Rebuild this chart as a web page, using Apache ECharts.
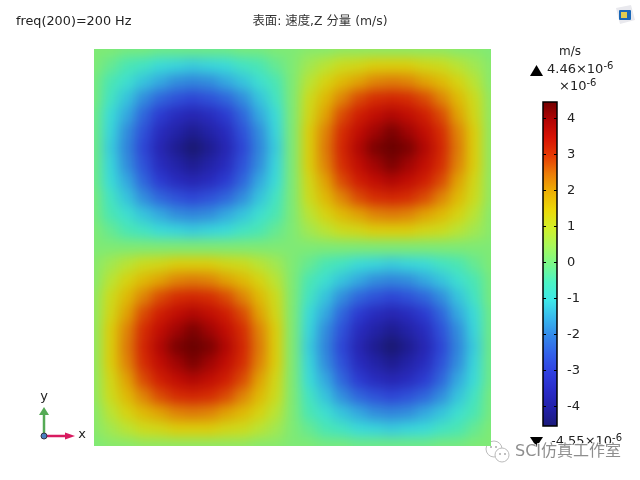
<!DOCTYPE html>
<html lang="zh">
<head>
	<meta charset="UTF-8">
	<title>速度 Z 分量</title>
	<style type="text/css">
	html, body { margin: 0; padding: 0; background: #fff; }
	#main { position: absolute; left: 0; top: 0; width: 640px; height: 480px; }
	/* 云图单独一层：模糊后由外层裁剪到绘图区 */
	#clip { position: absolute; left: 94px; top: 49px; width: 397px; height: 397px; overflow: hidden; }
	#heat { position: absolute; left: -30px; top: -30px; width: 457px; height: 457px; filter: blur(6px) brightness(0.94); }
</style>
</head>
<body>
	<div id="main"></div>
	<div id="clip"><div id="heat"></div></div>

	<script type="text/javascript" src="https://cdn.jsdelivr.net/npm/echarts@6/dist/echarts.min.js"></script>
	<script type="text/javascript">

		// 速度 Z 分量读数 (×10^-6 m/s)，从上到下、从左到右，采样点落在绘图区边缘
		var heatRows = [
			[.1,.1,0,0,-.1,-.1,-.1,-.1,-.1,0,0,.1,.1,.2,.2,.3,.3,.3,.3,.3,.3,.3,.2,.2,.1],
			[.1,-.2,-.5,-.7,-1,-1.1,-1.2,-1.1,-1,-.7,-.5,-.2,.1,.5,.8,1.1,1.2,1.4,1.4,1.4,1.2,1.1,.8,.5,.2],
			[0,-.5,-.9,-1.3,-1.6,-1.9,-2,-1.9,-1.6,-1.3,-.9,-.5,.1,.8,1.3,1.7,2,2.3,2.4,2.3,2,1.7,1.3,.8,.2],
			[0,-.7,-1.3,-1.9,-2.4,-2.7,-2.9,-2.7,-2.4,-1.9,-1.3,-.7,.1,1.1,1.7,2.3,2.8,3.1,3.2,3.1,2.8,2.3,1.7,1.1,.3],
			[-.1,-1,-1.6,-2.4,-3.1,-3.5,-3.7,-3.5,-3.1,-2.4,-1.6,-1,.1,1.2,2,2.8,3.3,3.6,3.8,3.6,3.3,2.8,2,1.2,.3],
			[-.1,-1.1,-1.9,-2.7,-3.5,-3.9,-4.2,-3.9,-3.5,-2.7,-1.9,-1.1,.1,1.4,2.3,3.1,3.6,4,4.3,4,3.6,3.1,2.3,1.4,.3],
			[-.1,-1.2,-2,-2.9,-3.7,-4.2,-4.55,-4.2,-3.7,-2.9,-2,-1.2,.1,1.4,2.4,3.2,3.8,4.3,4.46,4.3,3.8,3.2,2.4,1.4,.3],
			[-.1,-1.1,-1.9,-2.7,-3.5,-3.9,-4.2,-3.9,-3.5,-2.7,-1.9,-1.1,.1,1.4,2.3,3.1,3.6,4,4.3,4,3.6,3.1,2.3,1.4,.3],
			[-.1,-1,-1.6,-2.4,-3.1,-3.5,-3.7,-3.5,-3.1,-2.4,-1.6,-1,.1,1.2,2,2.8,3.3,3.6,3.8,3.6,3.3,2.8,2,1.2,.3],
			[0,-.7,-1.3,-1.9,-2.4,-2.7,-2.9,-2.7,-2.4,-1.9,-1.3,-.7,.1,1.1,1.7,2.3,2.8,3.1,3.2,3.1,2.8,2.3,1.7,1.1,.3],
			[0,-.5,-.9,-1.3,-1.6,-1.9,-2,-1.9,-1.6,-1.3,-.9,-.5,.1,.8,1.3,1.7,2,2.3,2.4,2.3,2,1.7,1.3,.8,.2],
			[.1,-.2,-.5,-.7,-1,-1.1,-1.2,-1.1,-1,-.7,-.5,-.2,.1,.5,.8,1.1,1.2,1.4,1.4,1.4,1.2,1.1,.8,.5,.2],
			[.1,.1,.1,.1,.1,.1,.1,.1,.1,.1,.1,.1,.1,.1,.1,.1,.1,.1,.1,.1,.1,.1,.1,.1,.1],
			[.2,.5,.8,1.1,1.2,1.4,1.4,1.4,1.2,1.1,.8,.5,.1,-.2,-.5,-.7,-1,-1.1,-1.2,-1.1,-1,-.7,-.5,-.2,.1],
			[.2,.8,1.3,1.7,2,2.3,2.4,2.3,2,1.7,1.3,.8,.1,-.5,-.9,-1.3,-1.6,-1.9,-2,-1.9,-1.6,-1.3,-.9,-.5,0],
			[.3,1.1,1.7,2.3,2.8,3.1,3.2,3.1,2.8,2.3,1.7,1.1,.1,-.7,-1.3,-1.9,-2.4,-2.7,-2.9,-2.7,-2.4,-1.9,-1.3,-.7,0],
			[.3,1.2,2,2.8,3.3,3.6,3.8,3.6,3.3,2.8,2,1.2,.1,-1,-1.6,-2.4,-3.1,-3.5,-3.7,-3.5,-3.1,-2.4,-1.6,-1,-.1],
			[.3,1.4,2.3,3.1,3.6,4,4.3,4,3.6,3.1,2.3,1.4,.1,-1.1,-1.9,-2.7,-3.5,-3.9,-4.2,-3.9,-3.5,-2.7,-1.9,-1.1,-.1],
			[.3,1.4,2.4,3.2,3.8,4.3,4.46,4.3,3.8,3.2,2.4,1.4,.1,-1.2,-2,-2.9,-3.7,-4.2,-4.55,-4.2,-3.7,-2.9,-2,-1.2,-.1],
			[.3,1.4,2.3,3.1,3.6,4,4.3,4,3.6,3.1,2.3,1.4,.1,-1.1,-1.9,-2.7,-3.5,-3.9,-4.2,-3.9,-3.5,-2.7,-1.9,-1.1,-.1],
			[.3,1.2,2,2.8,3.3,3.6,3.8,3.6,3.3,2.8,2,1.2,.1,-1,-1.6,-2.4,-3.1,-3.5,-3.7,-3.5,-3.1,-2.4,-1.6,-1,-.1],
			[.3,1.1,1.7,2.3,2.8,3.1,3.2,3.1,2.8,2.3,1.7,1.1,.1,-.7,-1.3,-1.9,-2.4,-2.7,-2.9,-2.7,-2.4,-1.9,-1.3,-.7,0],
			[.2,.8,1.3,1.7,2,2.3,2.4,2.3,2,1.7,1.3,.8,.1,-.5,-.9,-1.3,-1.6,-1.9,-2,-1.9,-1.6,-1.3,-.9,-.5,0],
			[.2,.5,.8,1.1,1.2,1.4,1.4,1.4,1.2,1.1,.8,.5,.1,-.2,-.5,-.7,-1,-1.1,-1.2,-1.1,-1,-.7,-.5,-.2,.1],
			[.1,.2,.2,.3,.3,.3,.3,.3,.3,.3,.2,.2,.1,.1,0,0,-.1,-.1,-.1,-.1,-.1,0,0,.1,.1]
		];
		var barRange = [-4.55, 4.46];
		var barTicks = [-4, -3, -2, -1, 0, 1, 2, 3, 4];
		// 从 -4.55 到 4.46 均匀取色
		var heatColors = [
			'#1b1a78', '#2220a8', '#2a2cc8', '#3040e0', '#3360ea', '#3488ea', '#37b8ee', '#3ee8e8', '#4cf5c4', '#7af98a',
			'#a8f85a', '#d2f028', '#ecd808', '#eeb004', '#ec7c08', '#e63a04', '#d81204', '#b00404', '#700000'
		];

		var fontName = '"DejaVu Sans", "Noto Sans CJK SC", sans-serif';
		var textColor = '#222';

		// 转成热力图需要的 [x, y, value]
		function heatData () {
			var arr = [];
			heatRows.forEach(function (row, y) {
				row.forEach(function (v, x) {
					arr.push([x, y, v]);
				});
			});
			return arr;
		}

		function indexList (n) {
			var arr = [];
			for (var i = 0; i < n; i++) arr.push(i);
			return arr;
		}

		// 云图
		var heat = echarts.init(document.getElementById('heat'));
		heat.setOption({
			animation: false,
			backgroundColor: '#8cf090',
			grid: { left: 21.73, right: 21.73, top: 21.73, bottom: 21.73 },
			xAxis: { type: 'category', show: false, data: indexList(heatRows[0].length) },
			yAxis: { type: 'category', show: false, inverse: true, data: indexList(heatRows.length) },
			visualMap: { show: false, min: barRange[0], max: barRange[1], calculable: false, inRange: { color: heatColors } },
			series: [{ type: 'heatmap', data: heatData(), progressive: 0 }]
		});

		function text (x, y, str, size, align, color) {
			return {
				type: 'text', x: x, y: y, silent: true,
				style: { text: str, fill: color || textColor, font: size + 'px ' + fontName, align: align || 'left', verticalAlign: 'middle' }
			};
		}

		// 带上标的 ×10^-6
		function powerText (x, y, str, align) {
			return {
				type: 'text', x: x, y: y, silent: true,
				style: {
					text: '{n|' + str + '×10}{s|-6}', align: align || 'left', verticalAlign: 'middle',
					rich: {
						n: { fontFamily: fontName, fontSize: 13, fill: textColor, color: textColor },
						s: { fontFamily: fontName, fontSize: 10, fill: textColor, color: textColor, padding: [0, 0, 7, 0] }
					}
				}
			};
		}

		function tri (points, fill) {
			return { type: 'polygon', silent: true, shape: { points: points }, style: { fill: fill } };
		}

		function seg (x1, y1, x2, y2, color, w) {
			return { type: 'line', silent: true, shape: { x1: x1, y1: y1, x2: x2, y2: y2 }, style: { stroke: color, lineWidth: w } };
		}

		function dot (x, y, r, fill, stroke) {
			return { type: 'circle', silent: true, shape: { cx: x, cy: y, r: r }, style: { fill: fill, stroke: stroke || null, lineWidth: 1 } };
		}

		var decor = [
			text(16, 22, 'freq(200)=200 Hz', 12.8),
			text(320, 22, '表面: 速度,Z 分量 (m/s)', 12.4, 'center', '#333'),
			text(570, 52, 'm/s', 12, 'center'),
			tri([[530, 76], [543, 76], [536.5, 65]], '#000'),
			powerText(547, 70, '4.46'),
			powerText(559, 87, ''),
			tri([[530, 437], [543, 437], [536.5, 447]], '#000'),
			powerText(551, 442, '-4.55'),

			// 坐标三轴
			seg(44, 436, 44, 414, '#55aa55', 2.5),
			tri([[39, 415], [49, 415], [44, 407]], '#55aa55'),
			seg(44, 436, 66, 436, '#d81b60', 2.5),
			tri([[65, 432.5], [65, 439.5], [75, 436]], '#d81b60'),
			dot(44, 436, 3, '#4a80c0', '#334'),
			text(44, 397, 'y', 13, 'center'),
			text(82, 435, 'x', 13, 'center'),

			// 右上角小图标
			tri([[616, 8], [631, 5], [635, 20], [620, 24]], '#e9e9ee'),
			{ type: 'rect', silent: true, shape: { x: 619, y: 10, width: 12, height: 10, r: 1 }, style: { fill: '#1a68b8' } },
			{ type: 'rect', silent: true, shape: { x: 621, y: 12, width: 6, height: 6 }, style: { fill: '#e0cc50' } },

			// 水印
			dot(494, 449, 8, '#fff', '#bbb'),
			dot(502, 455, 7, '#fff', '#bbb'),
			dot(491, 447, 1, '#aaa'),
			dot(496, 447, 1, '#aaa'),
			dot(500, 454, 1, '#aaa'),
			dot(505, 454, 1, '#aaa'),
			{
				type: 'text', x: 515, y: 452, silent: true,
				style: { text: 'SCI仿真工作室', fill: '#8e8e8e', stroke: '#fff', lineWidth: 1.5, font: '16px ' + fontName, align: 'left', verticalAlign: 'middle' }
			}
		];

		// 色标、刻度和文字
		var main = echarts.init(document.getElementById('main'));
		main.setOption({
			animation: false,
			grid: { left: 543, top: 102, width: 14, height: 324 },
			xAxis: { type: 'value', min: 0, max: 1, show: false },
			yAxis: [{
				type: 'value', position: 'left', min: barRange[0], max: barRange[1], z: 5,
				axisLine: { show: false }, splitLine: { show: false }, axisLabel: { show: false },
				axisTick: { show: true, inside: true, length: 3, customValues: barTicks, lineStyle: { color: '#000' } }
			}, {
				type: 'value', position: 'right', min: barRange[0], max: barRange[1], z: 5,
				axisLine: { show: false }, splitLine: { show: false },
				axisLabel: { show: true, customValues: barTicks, margin: 10, fontFamily: fontName, fontSize: 13, color: textColor },
				axisTick: { show: true, inside: true, length: 3, customValues: barTicks, lineStyle: { color: '#000' } }
			}],
			graphic: decor,
			series: [{
				type: 'custom',
				yAxisIndex: 0,
				z: 1,
				data: [[0, 1, barRange[0], barRange[1]]],
				encode: { x: [0, 1], y: [2, 3] },
				renderItem: function (params, api) {
					var p1 = api.coord([api.value(0), api.value(3)]);
					var p2 = api.coord([api.value(1), api.value(2)]);
					var stops = heatColors.map(function (c, i) {
						return { offset: i / (heatColors.length - 1), color: c };
					});
					return {
						type: 'rect',
						shape: { x: p1[0], y: p1[1], width: p2[0] - p1[0], height: p2[1] - p1[1] },
						style: {
							fill: { type: 'linear', x: 0, y: 1, x2: 0, y2: 0, colorStops: stops },
							stroke: '#000', lineWidth: 1.5
						}
					};
				}
			}]
		});

	</script>
</body>
</html>
